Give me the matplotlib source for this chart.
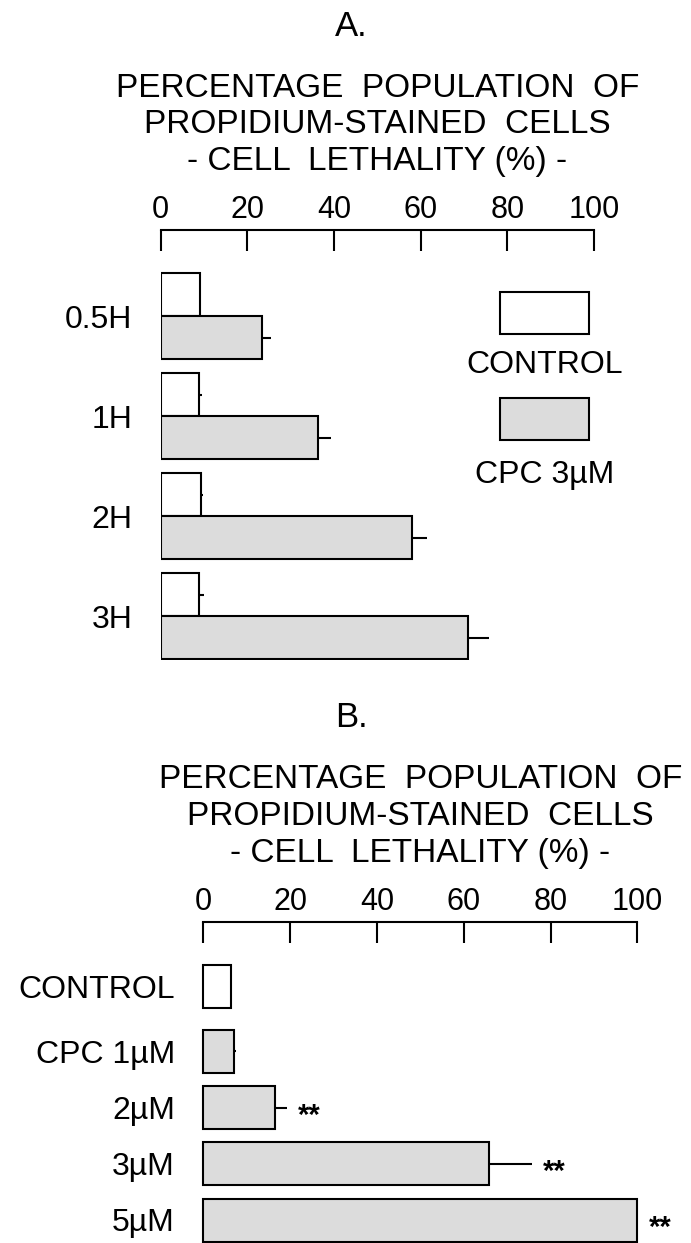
import matplotlib
matplotlib.use("Agg")
import matplotlib.pyplot as plt
from matplotlib.patches import Rectangle

plt.rcParams['font.family'] = ['Liberation Sans', 'DejaVu Sans']

# --- data, panel A (time course) ---
a_labels = ['0.5H', '1H', '2H', '3H']
a_control = [9.1, 8.8, 9.2, 8.9]
a_control_err = [0.3, 0.8, 0.6, 1.0]
a_cpc = [23.3, 36.2, 58.1, 71.0]
a_cpc_err = [2.1, 3.2, 3.4, 4.8]

# --- data, panel B (dose response) ---
b_labels = ['CONTROL', 'CPC 1\u00b5M', '2\u00b5M', '3\u00b5M', '5\u00b5M']
b_values = [6.3, 7.1, 16.5, 65.9, 99.9]
b_err = [0.4, 0.4, 2.8, 9.8, 0.3]
b_signif = ['', '', '**', '**', '**']

xticks = [0, 20, 40, 60, 80, 100]
title_lines = ['PERCENTAGE  POPULATION  OF',
               'PROPIDIUM-STAINED  CELLS',
               '- CELL  LETHALITY (%) -']

W, H = 691, 1243
GRAY = '#dcdcdc'
LW = 1.5

fig = plt.figure(figsize=(W / 100, H / 100), dpi=100)


def px_axes(left, top, right, bottom):
    return fig.add_axes([left / W, 1 - bottom / H, (right - left) / W, (bottom - top) / H])


def style_axis(ax, ymax):
    ax.set_xlim(0, 100)
    ax.set_ylim(ymax, 0)
    ax.xaxis.tick_top()
    ax.set_xticks(xticks)
    ax.tick_params(axis='x', direction='in', length=15, width=LW, pad=3.5, labelsize=22)
    ax.tick_params(axis='y', length=0, pad=20.5, labelsize=23)
    for s in ['left', 'right', 'bottom']:
        ax.spines[s].set_visible(False)
    ax.spines['top'].set_linewidth(LW)
    ax.spines['top'].set_bounds(0, 100)


def titles(letter, xc, axis_top):
    fig.text(351 / W, 1 - (axis_top - 194.3) / H, letter, fontsize=25,
             ha='center', va='baseline')
    for i, line in enumerate(title_lines):
        y = axis_top - 133.3 + i * 36.7
        fig.text(xc / W, 1 - y / H, line, fontsize=24, ha='center', va='baseline')


# ---------------- Panel A ----------------
axA = px_axes(160.7, 230, 594, 660)
hA = 0.43
ctrl_pos = [i + 0.648 for i in range(len(a_labels))]
cpc_pos = [i + 1.078 for i in range(len(a_labels))]

axA.errorbar(a_control, ctrl_pos, xerr=[[0] * 4, a_control_err], fmt='none',
             ecolor='black', elinewidth=LW, capsize=0, zorder=1)
axA.errorbar(a_cpc, cpc_pos, xerr=[[0] * 4, a_cpc_err], fmt='none',
             ecolor='black', elinewidth=LW, capsize=0, zorder=1)
axA.barh(ctrl_pos, a_control, height=hA, color='white', edgecolor='black',
         linewidth=LW, zorder=2)
axA.barh(cpc_pos, a_cpc, height=hA, color=GRAY, edgecolor='black',
         linewidth=LW, zorder=2)
axA.set_yticks([i + 0.863 for i in range(len(a_labels))])
axA.set_yticklabels(a_labels)
style_axis(axA, 4.3)

# legend drawn as boxes with text underneath
for (y0, fc, txt, yt) in [(0.617, 'white', 'CONTROL', 1.433),
                          (1.677, GRAY, 'CPC 3\u00b5M', 2.533)]:
    axA.add_patch(Rectangle((78.3, y0), 20.5, 0.426, facecolor=fc,
                            edgecolor='black', linewidth=LW, clip_on=False))
    axA.text(88.7, yt, txt, fontsize=23, ha='center', va='baseline')

titles('A.', 377.4, 230)

# ---------------- Panel B ----------------
axB = px_axes(203.3, 921.7, 637.3, 1243)
b_pos = [0.643, 1.293, 1.858, 2.421, 2.983]
b_colors = ['white'] + [GRAY] * (len(b_values) - 1)

axB.errorbar(b_values, b_pos, xerr=[[0] * len(b_values), b_err], fmt='none',
             ecolor='black', elinewidth=LW, capsize=0, zorder=1, clip_on=False)
axB.barh(b_pos, b_values, height=0.43, color=b_colors, edgecolor='black',
         linewidth=LW, zorder=2, clip_on=False)
for v, e, p, s in zip(b_values, b_err, b_pos, b_signif):
    if s:
        axB.annotate(s, (v + e, p), xytext=(8, -11.5), textcoords='offset points',
                     fontsize=21, fontweight='bold', ha='left', va='baseline',
                     annotation_clip=False)
axB.set_yticks(b_pos)
axB.set_yticklabels(b_labels)
style_axis(axB, 3.213)

titles('B.', 420.3, 921.7)

fig.savefig('out.png', dpi=100)
